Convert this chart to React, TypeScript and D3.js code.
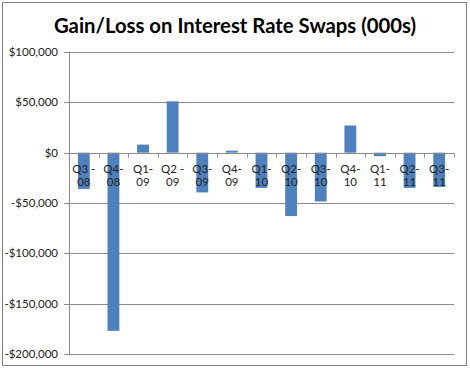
import React, { useEffect, useRef } from "react";
import * as d3 from "d3";

// quarters and gain/loss values (in $000s)
const quarters = ["Q3-08", "Q4-08", "Q1-09", "Q2-09", "Q3-09", "Q4-09", "Q1-10", "Q2-10", "Q3-10", "Q4-10", "Q1-11", "Q2-11", "Q3-11"];
const labelTop = ["Q3 -", "Q4-", "Q1-", "Q2 -", "Q3-", "Q4-", "Q1-", "Q2-", "Q3-", "Q4-", "Q1-", "Q2-", "Q3-"];
const labelBottom = ["08", "08", "09", "09", "09", "09", "10", "10", "10", "10", "11", "11", "11"];
const values = [-36000, -177000, 8000, 51000, -39500, 2000, -35000, -63000, -48500, 27000, -3500, -35000, -34000];
const yTicks = [100000, 50000, 0, -50000, -100000, -150000, -200000];

const W = 470;
const H = 369;
const font = "Lato, 'Open Sans', sans-serif";

export default function App() {
  const ref = useRef<SVGSVGElement>(null);

  useEffect(() => {
    const svg = d3.select(ref.current);
    svg.selectAll("*").remove();

    // chart frame
    svg.append("rect")
      .attr("x", 2.5).attr("y", 2.5)
      .attr("width", 464).attr("height", 363)
      .attr("fill", "#fff").attr("stroke", "#808080");

    svg.append("text")
      .attr("x", 235).attr("y", 33)
      .attr("text-anchor", "middle")
      .attr("font-family", font).attr("font-weight", "bold")
      .attr("font-size", 20.3).attr("fill", "#000")
      .text("Gain/Loss on Interest Rate Swaps (000s)");

    const x = d3.scaleBand().domain(quarters).range([69, 454]).paddingInner(0.6).paddingOuter(0.3);
    const xb = d3.scaleBand().domain(quarters).range([69, 454]);
    const y = d3.scaleLinear().domain([-200000, 100000]).range([354, 52]);
    const fmt = (v: number) => (v < 0 ? "-$" : "$") + d3.format(",")(Math.abs(v));

    // gridlines
    svg.append("g").selectAll("line").data(yTicks).join("line")
      .attr("x1", 64).attr("x2", 454)
      .attr("y1", (d) => Math.round(y(d)) + 0.5).attr("y2", (d) => Math.round(y(d)) + 0.5)
      .attr("stroke", "#8a8a8a");

    svg.append("g").selectAll("text").data(yTicks).join("text")
      .attr("x", 58).attr("y", (d) => y(d) + 4)
      .attr("text-anchor", "end")
      .attr("font-family", font).attr("font-size", 11.5).attr("fill", "#222")
      .text(fmt);

    // y axis line
    svg.append("line")
      .attr("x1", 69.5).attr("x2", 69.5).attr("y1", y(100000)).attr("y2", y(-200000))
      .attr("stroke", "#8a8a8a");

    // bars
    svg.append("g").selectAll("rect").data(values).join("rect")
      .attr("x", (_, i) => x(quarters[i])!)
      .attr("width", x.bandwidth())
      .attr("y", (d) => y(Math.max(0, d)))
      .attr("height", (d) => Math.abs(y(d) - y(0)))
      .attr("fill", "#4f81bd");

    // x axis at zero with tick marks
    const y0 = Math.round(y(0)) + 0.5;
    svg.append("line")
      .attr("x1", 69).attr("x2", 454).attr("y1", y0).attr("y2", y0)
      .attr("stroke", "#8a8a8a");
    svg.append("g").selectAll("line").data(quarters).join("line")
      .attr("x1", (d) => Math.round(xb(d)! + xb.bandwidth()) + 0.5)
      .attr("x2", (d) => Math.round(xb(d)! + xb.bandwidth()) + 0.5)
      .attr("y1", y0).attr("y2", y0 + 4)
      .attr("stroke", "#8a8a8a");

    const labels = svg.append("g").selectAll("text").data(quarters).join("text")
      .attr("text-anchor", "middle")
      .attr("font-family", font).attr("font-size", 11.5).attr("fill", "#222");
    labels.append("tspan")
      .attr("x", (d) => xb(d)! + xb.bandwidth() / 2).attr("y", y(0) + 20)
      .text((_, i) => labelTop[i]);
    labels.append("tspan")
      .attr("x", (d) => xb(d)! + xb.bandwidth() / 2).attr("y", y(0) + 33)
      .text((_, i) => labelBottom[i]);
  }, []);

  return (
    <div style={{ position: "absolute", left: 0, top: 0 }}>
      <svg ref={ref} width={W} height={H} style={{ display: "block" }} />
    </div>
  );
}
